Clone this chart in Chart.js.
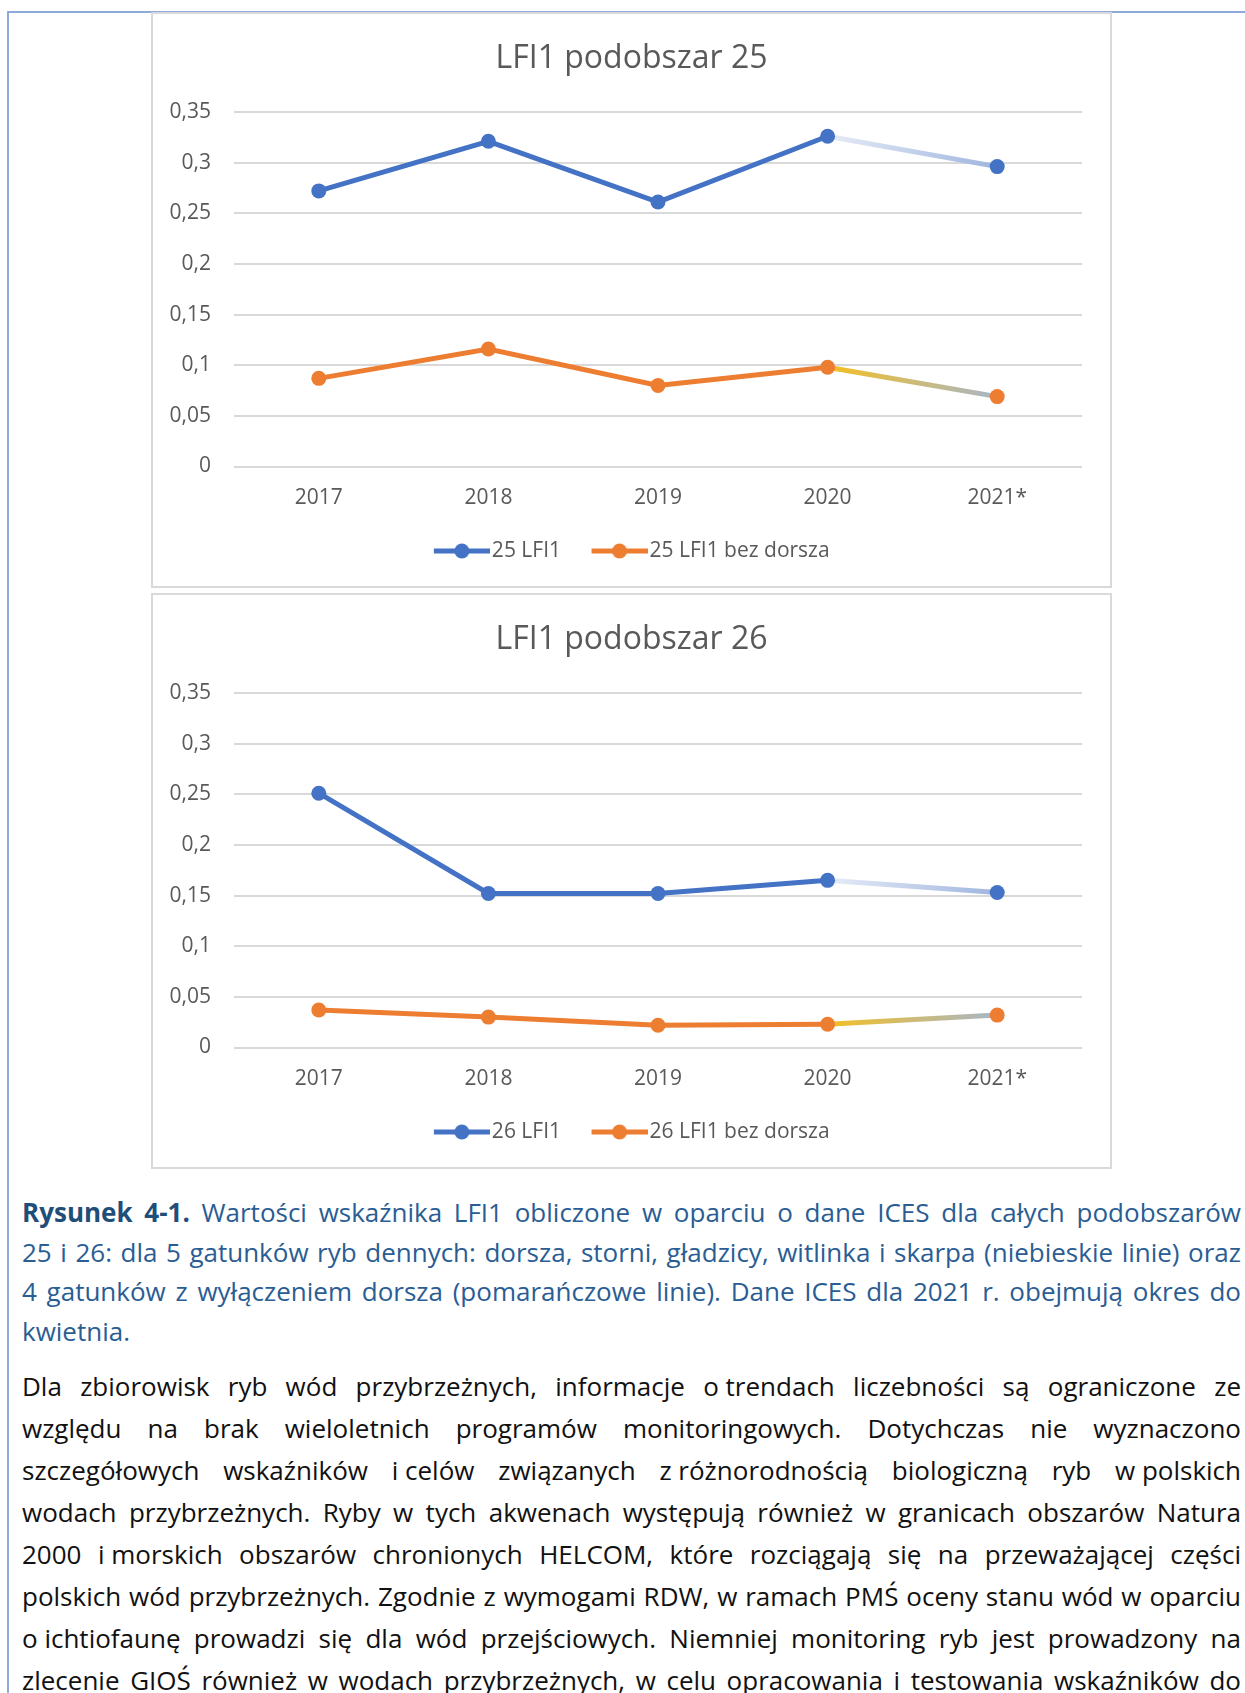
<!DOCTYPE html>
<html>
<head>
<meta charset="utf-8">
<script src="https://cdn.jsdelivr.net/npm/chart.js@4.4.0/dist/chart.umd.min.js"></script>
<style>
html, body { margin: 0; padding: 0; background: #fff; overflow: hidden; width: 1245px; height: 1693px; }
.frame-top { position: absolute; left: 7px; top: 11px; right: 0; height: 2px; background: #8eaadb; }
.frame-left { position: absolute; left: 7px; top: 11px; width: 2px; bottom: 0; background: #8eaadb; }
.box { position: absolute; left: 151px; width: 961px; height: 576px; border: 2px solid #d9d9d9; box-sizing: border-box; background: #fff; }
.box canvas { display: block; }
#box1 { top: 12px; }
#box2 { top: 593px; }
.text { position: absolute; left: 22px; width: 1219px; font-family: 'Open Sans'; font-size: 26px; }
.caption { top: 1193px; color: #2a5d93; line-height: 39.5px; }
.caption b { color: #1f4e79; }
.body { top: 1365px; color: #111; line-height: 42px; }
.line { text-align: justify; text-align-last: justify; white-space: nowrap; }
.last { text-align: left; text-align-last: left; }
.nb { display: inline-block; }
</style>
</head>
<body>
<div class="frame-top"></div>
<div class="frame-left"></div>

<div class="box" id="box1"><canvas id="chart25" width="957" height="572"></canvas></div>
<div class="box" id="box2"><canvas id="chart26" width="957" height="572"></canvas></div>

<div class="text caption">
  <div class="line"><b>Rysunek 4-1.</b> Wartości wskaźnika LFI1 obliczone w oparciu o dane ICES dla całych podobszarów</div>
  <div class="line">25 i 26: dla 5 gatunków ryb dennych: dorsza, storni, gładzicy, witlinka i skarpa (niebieskie linie) oraz</div>
  <div class="line">4 gatunków z wyłączeniem dorsza (pomarańczowe linie). Dane ICES dla 2021 r. obejmują okres do</div>
  <div class="line last">kwietnia.</div>
</div>

<div class="text body">
  <div class="line">Dla zbiorowisk ryb wód przybrzeżnych, informacje <span class="nb">o trendach</span> liczebności są ograniczone ze</div>
  <div class="line">względu na brak wieloletnich programów monitoringowych. Dotychczas nie wyznaczono</div>
  <div class="line">szczegółowych wskaźników <span class="nb">i celów</span> związanych <span class="nb">z różnorodnością</span> biologiczną ryb <span class="nb">w polskich</span></div>
  <div class="line">wodach przybrzeżnych. Ryby w tych akwenach występują również w granicach obszarów Natura</div>
  <div class="line">2000 <span class="nb">i morskich</span> obszarów chronionych HELCOM, które rozciągają się na przeważającej części</div>
  <div class="line">polskich wód przybrzeżnych. Zgodnie z wymogami RDW, w ramach PMŚ oceny stanu wód w oparciu</div>
  <div class="line"><span class="nb">o ichtiofaunę</span> prowadzi się dla wód przejściowych. Niemniej monitoring ryb jest prowadzony na</div>
  <div class="line">zlecenie GIOŚ również w wodach przybrzeżnych, w celu opracowania i testowania wskaźników do</div>
</div>

<script>
// dane
const years = ['2017', '2018', '2019', '2020', '2021*']
const yTicks = [0, 0.05, 0.1, 0.15, 0.2, 0.25, 0.3, 0.35]

const lfi25 = [0.272, 0.321, 0.261, 0.326, 0.296]
const lfi25BezDorsza = [0.087, 0.116, 0.080, 0.098, 0.069]
const lfi26 = [0.251, 0.152, 0.152, 0.165, 0.153]
const lfi26BezDorsza = [0.037, 0.030, 0.022, 0.023, 0.032]

const blue = '#4472c4'
const orange = '#ed7d31'
const grey = '#595959'

Chart.defaults.font.family = "'Open Sans'"

// ostatni odcinek (2020 -> 2021*) jest cieniowany
function fade(c, from, to) {
    const g = c.chart.ctx.createLinearGradient(c.p0.x, c.p0.y, c.p1.x, c.p1.y)
    g.addColorStop(0, from)
    g.addColorStop(1, to)
    return g
}

function legendIcon(color) {
    const c = document.createElement('canvas')
    c.width = 65
    c.height = 20
    const g = c.getContext('2d')
    g.strokeStyle = color
    g.lineWidth = 5
    g.beginPath()
    g.moveTo(9, 10)
    g.lineTo(65, 10)
    g.stroke()
    g.fillStyle = color
    g.beginPath()
    g.arc(37, 10, 7.5, 0, Math.PI * 2)
    g.fill()
    return c
}
const icons = [legendIcon(blue), legendIcon(orange)]

function series(label, values, color, fadeFrom, fadeTo) {
    return {
        label: label,
        data: values,
        borderColor: color,
        backgroundColor: color,
        borderWidth: 5,
        pointRadius: 7.5,
        pointHoverRadius: 7.5,
        pointBorderWidth: 0,
        pointBackgroundColor: color,
        tension: 0,
        segment: {
            borderColor: c => c.p1DataIndex === years.length - 1 ? fade(c, fadeFrom, fadeTo) : undefined
        }
    }
}

function makeChart(id, title, names, a, b) {
    return new Chart(document.getElementById(id), {
        type: 'line',
        data: {
            labels: years,
            datasets: [
                series(names[0], a, blue, '#e6ecf7', '#9fb5df'),
                series(names[1], b, orange, '#f4bf22', '#a6b6c9')
            ]
        },
        options: {
            responsive: false,
            animation: false,
            layout: { padding: { left: 0, right: 0, top: 11.5, bottom: 14.5 } },
            plugins: {
                title: {
                    display: true,
                    text: title,
                    color: grey,
                    font: { size: 32, weight: 'normal' },
                    padding: { top: 14, bottom: 34 }
                },
                legend: {
                    position: 'bottom',
                    labels: {
                        usePointStyle: true,
                        pointStyleWidth: 48,
                        padding: 30,
                        color: grey,
                        font: { size: 21 },
                        generateLabels: chart => Chart.defaults.plugins.legend.labels.generateLabels(chart)
                            .map((item, i) => Object.assign(item, { pointStyle: icons[i] }))
                    }
                },
                tooltip: { enabled: false }
            },
            scales: {
                x: {
                    offset: true,
                    grid: { display: false, drawTicks: false },
                    border: { display: false },
                    ticks: { color: grey, font: { size: 21 }, padding: 19 },
                    afterFit: axis => { axis.height = 44 }
                },
                y: {
                    min: 0,
                    max: 0.35,
                    grid: { color: '#d9d9d9', lineWidth: 2, drawTicks: false },
                    border: { display: false },
                    afterBuildTicks: axis => { axis.ticks = yTicks.map(v => ({ value: v })) },
                    ticks: { color: grey, font: { size: 21 }, padding: 23, callback: v => String(v).replace('.', ',') },
                    afterFit: axis => { axis.width = 81 }
                },
                // pusty margines po prawej
                right: {
                    position: 'right',
                    grid: { display: false, drawTicks: false },
                    border: { display: false },
                    ticks: { display: false },
                    afterFit: axis => { axis.width = 28 }
                }
            }
        }
    })
}

makeChart('chart25', 'LFI1 podobszar 25', ['25 LFI1', '25 LFI1 bez dorsza'], lfi25, lfi25BezDorsza)
makeChart('chart26', 'LFI1 podobszar 26', ['26 LFI1', '26 LFI1 bez dorsza'], lfi26, lfi26BezDorsza)
</script>
</body>
</html>
